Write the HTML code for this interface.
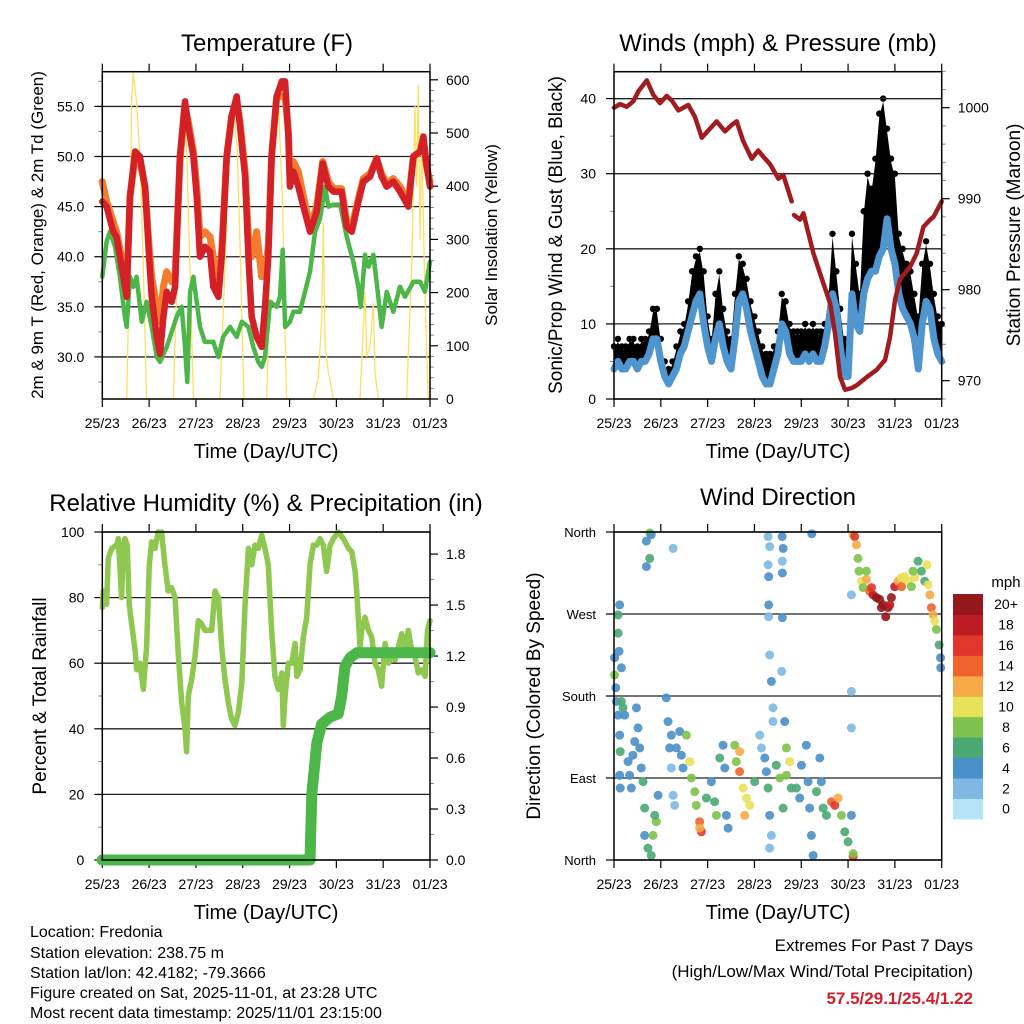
<!DOCTYPE html>
<html><head><meta charset="utf-8"><style>
html,body{margin:0;padding:0;background:#fff;}
svg{display:block;font-family:"Liberation Sans",sans-serif;}
</style></head><body>
<svg id="chart" width="1024" height="1024" viewBox="0 0 1024 1024" xmlns="http://www.w3.org/2000/svg">
<rect width="1024" height="1024" fill="#fff"/>
<g id="layer"></g>
<text x="267" y="51" font-size="24" text-anchor="middle">Temperature (F)</text>
<text x="778" y="51" font-size="24" text-anchor="middle">Winds (mph) &amp; Pressure (mb)</text>
<text x="266" y="511" font-size="24" text-anchor="middle">Relative Humidity (%) &amp; Precipitation (in)</text>
<text x="778" y="505" font-size="24" text-anchor="middle">Wind Direction</text>
<text transform="translate(43,235) rotate(-90)" font-size="17" text-anchor="middle">2m &amp; 9m T (Red, Orange) &amp; 2m Td (Green)</text>
<text transform="translate(497,235) rotate(-90)" font-size="17" text-anchor="middle">Solar Insolation (Yellow)</text>
<text transform="translate(562,235) rotate(-90)" font-size="19" text-anchor="middle">Sonic/Prop Wind &amp; Gust (Blue, Black)</text>
<text transform="translate(1020,235) rotate(-90)" font-size="19" text-anchor="middle">Station Pressure (Maroon)</text>
<text transform="translate(46,696) rotate(-90)" font-size="19" text-anchor="middle">Percent &amp; Total Rainfall</text>
<text transform="translate(540,696) rotate(-90)" font-size="19" text-anchor="middle">Direction (Colored By Speed)</text>
<text x="266" y="458" font-size="20" text-anchor="middle">Time (Day/UTC)</text>
<text x="778" y="458" font-size="20" text-anchor="middle">Time (Day/UTC)</text>
<text x="266" y="919" font-size="20" text-anchor="middle">Time (Day/UTC)</text>
<text x="778" y="919" font-size="20" text-anchor="middle">Time (Day/UTC)</text>
<g font-size="16">
<text x="30" y="937">Location: Fredonia</text>
<text x="30" y="958">Station elevation: 238.75 m</text>
<text x="30" y="978">Station lat/lon: 42.4182; -79.3666</text>
<text x="30" y="998">Figure created on Sat, 2025-11-01, at 23:28 UTC</text>
<text x="30" y="1018">Most recent data timestamp: 2025/11/01 23:15:00</text>
</g>
<g font-size="17" text-anchor="end">
<text x="973" y="951">Extremes For Past 7 Days</text>
<text x="973" y="977">(High/Low/Max Wind/Total Precipitation)</text>
<text x="973" y="1004" fill="#d0202a" font-weight="bold">57.5/29.1/25.4/1.22</text>
</g>
<text x="1006" y="587" font-size="15" text-anchor="middle">mph</text>
</svg>
<script>
const dayLabels = ["25/23","26/23","27/23","28/23","29/23","30/23","31/23","01/23"];
const tempHours = [0,2.2,5.6,7.3,10.8,12.5,14.2,16.8,19.3,21.9,24,25.3,27.9,29.6,31.3,33,35.6,37.3,39.8,42.4,44.1,46.7,48.4,50.1,52.6,55.2,56.9,59.5,61.2,63.8,66.3,68.9,70.6,73.2,74.9,76.6,79.1,81.7,83.4,85.1,86.8,89.4,92,93.7,95.4,96.2,97.9,100.5,103.1,106.5,109.9,113,115.9,118.5,122.7,125.3,127.9,131.3,133.8,137.3,140.7,143.2,145.8,149.2,152.6,156.9,159.5,162.9,164.6,166.3,168];
const temp2m = [45.5,45,42.5,42,38,36,46,50.5,50,47,40,36,32,30.3,34,36.5,35.5,37,50,55.5,53,50,46,40,41,40.5,37,36,40,50,54,56,53,48,40,34,32,31,35,40,50,56,57.5,57.5,52,47,48.5,47,45,42.5,44.5,49.3,47,46.5,46.5,43,42.5,45.5,47.5,48,49.8,48,47,47.5,46.5,45,50,50.5,52,49,47];
const temp9m = [47.5,45.5,43.5,42.5,39,37,46,50,49.5,47,41,38,35,33.5,37,38.5,37.5,38,49.5,55,53.5,50.5,47,42,42.5,42,40,37,40.5,50,54,55.5,53.5,48.5,42,40,42.5,38,38.5,41,50,56,56,56,52.5,48,49.5,48.5,46,43,45,49.5,47.5,46.8,46.8,43.5,43,45.8,47.8,48.3,49.8,48.3,47.3,47.8,47,45.5,50,50.5,51,49,47.5];
const dewHours = [0,2.2,3.9,6.5,9,11.6,12.5,14.2,15.9,17.6,20.2,22.7,25.3,27.9,29.6,33,35.6,38.1,40.7,42.4,43.6,45,46.7,48.4,50.1,52.6,56.9,59.5,62,65.5,68.9,71.5,74.9,77.4,80,81.7,83.4,86,89.4,91.1,92.5,93.7,96.2,97.9,101.3,103.9,106.5,109.1,111.6,114.2,115.9,118.5,121.9,125.3,128.7,131.3,132.5,134.7,136.4,139,141.5,143.2,145.8,149.2,152.6,155.2,159.5,162.9,165.4,168];
const dewpoint = [38,41.5,42.5,41,38,34,33,38,37,38,33.5,35.5,33,30,29.5,31,32.5,34,35,31,27.5,36.5,38,35.5,33,31.5,31.5,30,32,33,32,33.5,33,31,29.5,29,30,35.5,35,36,40.7,33,33.5,34.5,34.5,36.5,38.5,42.5,43.8,47,45,45.2,45.2,42,39.5,37,35,40.2,39,40.2,36,33,36.5,34.5,37,36,37.5,37.5,36.5,39.5];
const solarHours = [0,12.5,14.2,15,15.9,16.8,17.6,19.3,21,22.7,36.4,38.1,40.7,41.9,43.2,44.9,46.7,60.3,62.9,65.5,67.2,69.2,70.9,72.6,84.3,86.3,88.5,90.3,92,92.5,93.2,94.5,108.2,110.8,112.5,113.3,114.2,115.9,118.5,132.1,134.7,135.6,137.3,139,139.8,141.5,156,158.6,160.3,161.2,162,162.9,163.7,165.4,167.1,168];
const solarValues = [0,0,300,560,615,580,560,450,250,0,0,200,500,550,480,250,0,0,250,520,555,470,250,0,0,300,540,560,400,360,200,0,0,40,150,330,100,50,0,0,200,80,100,180,50,0,0,250,550,400,590,300,500,200,0,0];
const windGust = [7,8,7,7,8,8,7,8,8,9,12,12, 8,5,4,5,7,9,10,13,17,19,20,17, 11,8,14,17,12,9,8,14,19,18,16,13, 11,9,7,6,6,7,9,14,13,10,9,9, 9,10,9,10,9,9,10,14,22,17,12,8, 8,22,18,14,25,30,28,32,38,40,36,32, 30,22,20,18,17,14,11,18,21,18,14,11,10];
const windSpeed = [4,5,4,4,5,5,4,5,5,6,8,8, 5,3,2,3,4,6,7,9,11,13,14,10, 7,5,8,10,7,5,4,8,13,14,12,9, 7,5,3,2,2,4,6,10,9,6,5,5, 5,6,5,6,5,5,7,10,14,12,7,3, 3,14,10,9,14,16,17,17,19,20,24,20, 18,14,12,11,10,8,4,10,13,12,8,6,5];
const pressHours = [0,3.1,6.5,9.9,12.5,16.8,20.2,23.6,27,29.6,33,38.1,41.5,45,48.4,52.6,56.9,60.3,62.9,66.3,70.6,74,76.6,80,84.3,86.8,91.1,null,92.3,95.4,97.1,102.2,105.6,110.8,113.3,115.9,118.5,121.9,124.4,129.6,134.7,139,141.5,144.1,146.7,151.8,155.2,158.6,162.1,163.8,168];
const pressure = [1000,1000.4,1000.1,1000.7,1001.8,1003,1001.4,1000.5,1001.3,1000.8,999.7,1000.3,999,996.7,997.5,998.5,997.4,998.1,998.5,996.3,994.4,995.3,994.6,993.8,992.2,992.6,989.7,null,988.2,987.7,988.4,984,981.8,978.5,975.2,970.4,969,969.2,969.5,970.4,971.2,972.3,974.8,978.9,981.2,982.5,984,986.9,987.7,988,989.7];
const rhHours = [0,0.5,2.2,3.1,4.8,7.4,8.2,9.9,10.8,11.6,12.8,13.8,15,16.8,17.6,19.3,21,22.7,24.1,25.3,27,28.7,30.4,32.1,33.8,35.6,37.3,39,40.7,42.4,43.2,44.1,45.8,47.5,49.2,50.9,52.6,54.4,56.1,57.8,59.5,61.2,62.9,64.6,66.3,68,69.7,71.5,73.2,74.9,76.6,78.3,80,81.7,83.4,85.1,86.8,88.5,90.3,92,92.8,93.7,95.4,97.1,98.8,99.7,101.4,103.1,104.8,106.5,108.2,109.9,111.6,113.3,115,116.8,118.5,121,123.6,126.2,127.9,129.6,130.4,132.1,133,134.7,136.4,138.1,139.8,141.5,143.2,145,146.7,148.4,150.1,151.8,153.5,155.2,156.9,158.6,160.3,162,163.8,165.5,166.7,168];
const rhValues = [77,82,78,92,95,96,98,80,96,98,96,78,72,64,58,60,52,65,90,97,95,100,100,90,82,83,80,62,48,40,33,50,55,62,73,72,70,70,70,82,80,65,55,48,43,41,45,54,78,95,90,96,95,99,95,90,70,56,52,57,41,50,60,60,66,56,58,68,74,90,96,96,98,96,88,96,98,100,98,95,94,88,82,65,70,74,70,68,60,58,53,66,60,62,61,65,69,64,70,64,62,57,58,56,70,73];
const precipHours = [0,106.5,107.4,110,112.5,116.8,121,122.7,124.4,127,130.4,168];
const precipTotal = [0,0,0.39,0.69,0.8,0.84,0.86,0.96,1.14,1.19,1.22,1.22];
const dirHours = [0.3,0.3,0.9,1.2,2.1,2.9,2.1,2.1,2.6,3.8,3.8,4.6,5.5,2.9,3.2,2.9,3.2,7.2,8,8.9,9.7,10.6,11.5,12.3,13.2,14,14.9,15.7,15.7,17.4,19.1,20,21.7,20.9,22.6,16.6,18.3,19.1,16.6,18.3,26.8,27.7,28.5,29.4,30.3,31.1,29.4,32,33.7,34.5,35.4,37.1,38.8,39.7,41.4,42.2,43.9,44.8,43.9,47.4,49.9,51.6,52.5,54.2,55.9,56.8,57.6,58.5,61.9,62.7,64.4,64.4,66.2,67.9,69.6,67,72.1,74.7,75.6,77.3,78.1,79,79.8,80.7,79.8,81.5,83.2,85,86.7,88.4,90.1,90.9,88.4,93.5,95.2,96.1,98.6,99.5,100.3,101.2,102.1,103.8,105.5,106.3,107.2,108.9,111.5,113.2,114.9,116.6,118.3,120,121.7,122.6,122.6,79,79.8,79,79.3,79.3,79.3,79.8,80.7,86.2,86.7,86.3,86.3,86.3,86,81.5,87.5,101.4,30.3,121.7,121.7,121.7,122.6,123.4,124.3,125.1,125.6,126.8,127.7,129.4,131.1,132.8,134.5,136.2,137.9,139.3,140.5,142.2,143.9,145.6,147.4,149.1,150.8,152.5,154.2,155.9,157.6,159.3,161,161.9,162.7,163.6,164.4,165.3,166.7,167.4,167.5,129.4,132,137.1,141.4,147.4,153.3,160.5];
const dirDegrees = [222,203,189,174,159,280,269,249,229,211,174,167,159,137,119,93,79,108,93,79,115,130,167,145,123,101,86,57,27,13,5,27,42,49,71,350,359,357,322,331,178,152,123,101,71,60,137,123,141,115,101,137,108,90,75,60,42,31,35,68,86,64,49,112,126,101,49,35,126,108,119,97,79,68,60,49,86,137,123,112,97,79,49,27,13,152,104,90,57,93,108,79,123,79,68,104,126,86,57,27,5,75,112,86,57,49,64,60,68,49,31,20,49,4,7,355,344,324,311,280,267,225,196,355,342,328,315,266,207,167,152,358,342,291,185,145,357,355,346,331,317,306,299,308,295,291,288,286,280,267,277,288,300,306,310,311,306,300,310,328,317,306,302,291,277,269,262,253,236,222,211,317,299,277,280,300,317,324];
const dirSpeeds = [4,8,4,4,4,3,6,6,4,3,6,6,4,3,6,4,4,4,4,4,4,4,4,3,3,4,6,6,4,6,6,8,8,6,4,3,8,4,4,6,4,3,3,2,2,2,3,3,4,4,3,8,10,8,8,8,14,16,12,6,4,6,8,6,4,4,4,4,8,8,12,14,10,10,10,12,6,2,2,4,4,6,4,2,2,2,6,8,6,8,10,6,8,6,4,4,4,4,4,4,4,6,4,4,6,6,14,16,12,8,6,6,4,16,8,1,2,1,3,4,2,1,3,4,4,2,3,3,2,2,4,4,1,1,1,1,12,16,12,8,8,10,8,12,14,18,20,20,20,20,20,20,18,12,10,10,10,8,10,6,6,6,10,12,14,12,10,8,6,4,4,8,16,20,18,14,8,10];
const speedBins = ["0","2","4","6","8","10","12","14","16","18","20+"];
const speedColors = ["#b5e3f8","#7db9e3","#4a8fc7","#4aa873","#7dc24d","#e8e15a","#f7aa45","#f0632c","#e0372a","#bd1c25","#93171b"];
const tempTicks = [30,35,40,45,50,55];
const solarTicks = [0,100,200,300,400,500,600];
const windTicks = [0,10,20,30,40];
const pressTicks = [970,980,990,1000];
const rhTicks = [0,20,40,60,80,100];
const precipTicks = [0,0.3,0.6,0.9,1.2,1.5,1.8];
const dirTicks = [0,90,180,270,360];
const dirLabels = ["North","East","South","West","North"];

const NS = "http://www.w3.org/2000/svg";
const layer = document.getElementById("layer");
const L = {x0:102.3, x1:430}, R = {x0:614, x1:941.7};
function xs(p, h){ return p.x0 + h/168*(p.x1-p.x0); }
const yTemp = v => 399 - (v-25.8)*10.02;
const ySolar = v => 399 - v*0.532;
const yWind = v => 399 - v*7.51;
const yPress = v => 380.7 - (v-970)*9.1;
const yRH = v => 860 - v*3.28;
const yPrecip = v => 860 - v*328/1.93;
const yDir = v => 860 - v*328/360;
function mk(tag, attrs, parent){ const e=document.createElementNS(NS,tag); for(const k in attrs) e.setAttribute(k,attrs[k]); (parent||layer).appendChild(e); return e; }
function pts(p, hs, vs, ys){ let segs=[],cur=[]; for(let i=0;i<hs.length;i++){ if(hs[i]===null||vs[i]===null){ if(cur.length) segs.push(cur); cur=[]; continue;} cur.push(xs(p,hs[i]).toFixed(1)+","+ys(vs[i]).toFixed(1)); } if(cur.length) segs.push(cur); return segs; }

function frame(p, top, bot, name){
  const g = mk("g",{});
  
  
  for(let d=0; d<8; d++){
    const x = xs(p, d*24);
    mk("line",{x1:x,y1:top-8,x2:x,y2:top,stroke:"#000","stroke-width":1.2},g);
    mk("line",{x1:x,y1:bot,x2:x,y2:bot+8,stroke:"#000","stroke-width":1.2},g);
    const t = mk("text",{x:x,y:bot+29,"font-size":14,"text-anchor":"middle"},g);
    t.textContent = dayLabels[d];
    
    
  }
  return g;
}
function box(p, top, bot){ mk("rect",{x:p.x0,y:top,width:p.x1-p.x0,height:bot-top,fill:"none",stroke:"#000","stroke-width":1.5}); }
function leftTicks(p, ticks, ys, fmt, gridTop, minor){
  ticks.forEach(v=>{ const y=ys(v);
    const gl = mk("line",{x1:p.x0,y1:y,x2:p.x1,y2:y,stroke:"#222","stroke-width":1.3});
    
    
    mk("line",{x1:p.x0-8,y1:y,x2:p.x0,y2:y,stroke:"#000","stroke-width":1.2});
    const t = mk("text",{x:p.x0-18,y:y+5,"font-size":14,"text-anchor":"end"}); t.textContent = fmt(v);
    
    
  });
  (minor||[]).forEach(v=>{ const y=ys(v); mk("line",{x1:p.x0-4,y1:y,x2:p.x0,y2:y,stroke:"#888","stroke-width":1}); });
}
function rightTicks(p, ticks, ys, fmt, minor){
  ticks.forEach(v=>{ const y=ys(v);
    mk("line",{x1:p.x1,y1:y,x2:p.x1+8,y2:y,stroke:"#000","stroke-width":1.2});
    const t = mk("text",{x:p.x1+16,y:y+5,"font-size":14,"text-anchor":"start"}); t.textContent = fmt(v);
    
    
  });
  (minor||[]).forEach(v=>{ const y=ys(v); mk("line",{x1:p.x1,y1:y,x2:p.x1+4,y2:y,stroke:"#888","stroke-width":1}); });
}
function line(p, hs, vs, ys, color, w, name){
  pts(p,hs,vs,ys).forEach(seg=>{
    const e = mk("polyline",{points:seg.join(" "),fill:"none",stroke:color,"stroke-width":w,"stroke-linejoin":"round","stroke-linecap":"round"});
    
    
  });
}

// Panel 1
frame(L,71.7,399,"temperature");
leftTicks(L,tempTicks,yTemp,v=>v.toFixed(1),71.7,[27.5,32.5,37.5,42.5,47.5,52.5,57.5]);
rightTicks(L,solarTicks,ySolar,v=>String(v),[20,40,60,80,120,140,160,180,220,240,260,280,320,340,360,380,420,440,460,480,520,540,560,580]);
line(L,solarHours,solarValues,ySolar,"#fbe064",1.3,"solar-insolation-line");
line(L,dewHours,dewpoint,yTemp,"#4cb648",4.5,"dewpoint-line");
line(L,tempHours,temp9m,yTemp,"#f47c2c",7,"temp-9m-line");
line(L,tempHours,temp2m,yTemp,"#d42027",6.5,"temp-2m-line");
box(L,71.7,399);

// Panel 2
frame(R,71.7,399,"winds");
leftTicks(R,windTicks,yWind,v=>String(v),71.7,[5,15,25,35]);
rightTicks(R,pressTicks,yPress,v=>String(v),[968,972,974,976,978,982,984,986,988,992,994,996,998,1002,1004]);
const windH = windSpeed.map((_,i)=>i*2);
(function(){
  const up = windH.map((h,i)=>xs(R,h).toFixed(1)+","+(yWind(windGust[i])+3).toFixed(1));
  const dn = windH.map((h,i)=>xs(R,h).toFixed(1)+","+yWind(windSpeed[i]).toFixed(1)).reverse();
  const e = mk("polygon",{points:up.concat(dn).join(" "),fill:"#000"});
  
  
  windH.forEach((h,i)=>{
    const c = mk("circle",{cx:xs(R,h),cy:yWind(windGust[i]),r:3.2,fill:"#000"});
    
    
  });
})();
line(R,windH,windSpeed,yWind,"#4f95cf",7,"wind-speed-line");
mk("line",{x1:R.x0,y1:yWind(40),x2:R.x1,y2:yWind(40),stroke:"#222","stroke-width":1.3});
line(R,pressHours,pressure,yPress,"#a11c1f",4.5,"pressure-line");
box(R,71.7,399);

// Panel 3
frame(L,532,860,"humidity");
leftTicks(L,rhTicks,yRH,v=>String(v),532,[10,30,50,70,90]);
rightTicks(L,precipTicks,yPrecip,v=>v.toFixed(1),[0.15,0.45,0.75,1.05,1.35,1.65]);
line(L,rhHours,rhValues,yRH,"#8fc850",5.5,"relative-humidity-line");
line(L,precipHours,precipTotal,yPrecip,"#4cb648",11,"precipitation-line");
box(L,532,860);

// Panel 4
frame(R,532,860,"direction");
dirTicks.forEach((v,i)=>{ const y=yDir(v);
  const gl = mk("line",{x1:R.x0,y1:y,x2:R.x1,y2:y,stroke:"#222","stroke-width":1.3});
  
  
  mk("line",{x1:R.x0-8,y1:y,x2:R.x0,y2:y,stroke:"#000","stroke-width":1.2});
  const t = mk("text",{x:R.x0-18,y:y+5,"font-size":13,"text-anchor":"end"}); t.textContent = dirLabels[i];
  
  
});
dirHours.forEach((h,i)=>{
  const idx = Math.min(10, Math.round(dirSpeeds[i]/2));
  const c = mk("circle",{cx:xs(R,h),cy:yDir(dirDegrees[i]),r:4.5,fill:speedColors[idx],"fill-opacity":0.9});
  
  
});
box(R,532,860);
const cbTop = 594, cbH = 20.45;
speedBins.forEach((lab,i)=>{
  const y = cbTop + (10-i)*cbH;
  const r = mk("rect",{x:953,y:y,width:30,height:cbH+0.5,fill:speedColors[i]});
  
  
  const t = mk("text",{x:1006,y:y+cbH/2+5,"font-size":14,"text-anchor":"middle"}); t.textContent = lab;
  
  
});
</script>
</body></html>
